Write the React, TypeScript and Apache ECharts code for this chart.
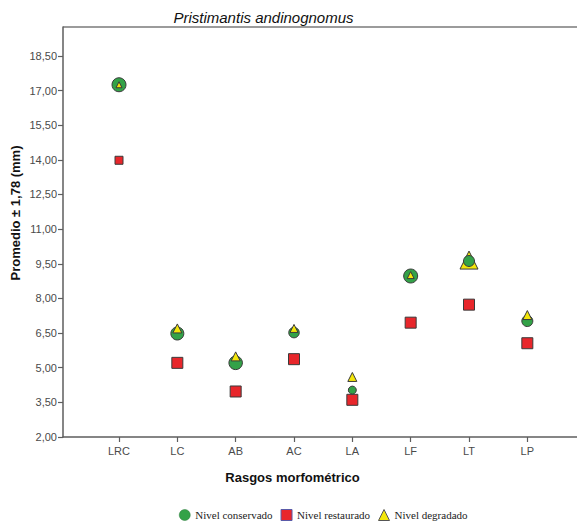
import React, { useEffect, useRef } from "react";
import * as echarts from "echarts";

// Morphometric traits along the x axis
const categories = ["LRC", "LC", "AB", "AC", "LA", "LF", "LT", "LP"];

// Mean values (mm) per habitat condition
const conservado = [17.25, 6.48, 5.21, 6.52, 4.03, 8.97, 9.62, 7.02];
const restaurado = [13.98, 5.21, 3.97, 5.37, 3.61, 6.95, 7.73, 6.06];
const degradado = [17.25, 6.7, 5.49, 6.7, 4.6, 9.01, 9.66, 7.28];

// Y axis tick values
const yTicks = [2, 3.5, 5, 6.5, 8, 9.5, 11, 12.5, 14, 15.5, 17, 18.5];

// Marker sizes (px) per point
const conservadoSize = [14, 13, 13.5, 10.5, 8, 14, 11, 11];
const restauradoSize = [8, 11, 11, 11, 11, 11, 11, 11];
const degradadoSize = [6, 9, 9, 8, 9, 7, 18, 9];

const FONT = "'Liberation Sans', Arial, sans-serif";
const AXIS_COLOR = "#5e5e5e";
const GREEN = "#33a248";
const RED = "#e8262b";
const YELLOW = "#f3e60a";
const BORDER = "#3a3a3a";

// The plot frame runs past the right edge of the visible area
const X_MIN = -0.96;
const X_MAX = 8.04;
const CANVAS_W = 610;
const GRID = { left: 63, right: 22, top: 27, bottom: 87 };

const fmt = (v: number) => v.toFixed(2).replace(".", ",");

export default function App() {
  const ref = useRef<HTMLDivElement>(null);

  useEffect(() => {
    if (!ref.current) return;
    const chart = echarts.init(ref.current, null, { renderer: "svg" });

    const points = (vals: number[], sizes: number[], keep: (i: number) => boolean) =>
      vals
        .map((v, i) => ({ value: [i, v], symbolSize: sizes[i], _i: i }))
        .filter((d) => keep(d._i))
        .map(({ value, symbolSize }) => ({ value, symbolSize }));

    // Triangles larger than their circle sit underneath it
    const under = (i: number) => degradadoSize[i] > conservadoSize[i];

    const xIdx = categories.map((_, i) => i);

    chart.setOption({
      animation: false,
      grid: GRID,
      xAxis: {
        type: "value",
        min: X_MIN,
        max: X_MAX,
        axisLine: { show: true, onZero: false, lineStyle: { color: AXIS_COLOR, width: 1.5 } },
        axisTick: { show: true, customValues: xIdx, length: 5, lineStyle: { color: AXIS_COLOR, width: 1.2 } },
        axisLabel: {
          customValues: xIdx,
          formatter: (v: number) => categories[Math.round(v)] ?? "",
          margin: 8,
          color: "#4a4a4a",
          fontSize: 11,
          fontFamily: FONT,
        },
        splitLine: { show: false },
      },
      yAxis: {
        type: "value",
        min: 2,
        max: 19.75,
        axisLine: { show: true, onZero: false, lineStyle: { color: AXIS_COLOR, width: 1.5 } },
        axisTick: { show: true, customValues: yTicks, length: 5, lineStyle: { color: AXIS_COLOR, width: 1.2 } },
        axisLabel: {
          customValues: yTicks,
          formatter: (v: number) => fmt(v),
          margin: 6,
          color: "#4a4a4a",
          fontSize: 11,
          fontFamily: FONT,
        },
        splitLine: { show: false },
      },
      legend: {
        left: 174,
        top: 504,
        itemWidth: 11,
        itemHeight: 11,
        itemGap: 8,
        textStyle: { fontFamily: "'Liberation Serif', 'Times New Roman', serif", fontSize: 11, color: "#222" },
        data: [
          { name: "Nivel conservado", icon: "circle", itemStyle: { color: GREEN, borderColor: "#2a7a3a", borderWidth: 0.5 } },
          { name: "Nivel restaurado", icon: "rect", itemStyle: { color: RED, borderColor: "#5a5aa8", borderWidth: 1 } },
          { name: "Nivel degradado", icon: "triangle", itemStyle: { color: YELLOW, borderColor: "#555", borderWidth: 1 } },
        ],
      },
      graphic: [
        {
          // top edge of the plot frame
          type: "line",
          shape: { x1: GRID.left, y1: GRID.top, x2: CANVAS_W - GRID.right, y2: GRID.top },
          style: { stroke: "#7a7a7a", lineWidth: 1.5 },
          silent: true,
        },
        {
          type: "text",
          x: 263.5,
          y: 17,
          style: {
            text: "Pristimantis andinognomus",
            font: `italic 15px ${FONT}`,
            fill: "#111",
            textAlign: "center",
            textVerticalAlign: "middle",
          },
        },
        {
          type: "text",
          x: 15,
          y: 213,
          rotation: Math.PI / 2,
          style: {
            text: "Promedio ± 1,78 (mm)",
            font: `bold 13px ${FONT}`,
            fill: "#111",
            textAlign: "center",
            textVerticalAlign: "middle",
          },
        },
        {
          type: "text",
          x: 292.5,
          y: 477,
          style: {
            text: "Rasgos morfométrico",
            font: `bold 13px ${FONT}`,
            fill: "#111",
            textAlign: "center",
            textVerticalAlign: "middle",
          },
        },
      ],
      series: [
        {
          name: "Nivel degradado",
          type: "scatter",
          z: 1,
          symbol: "triangle",
          itemStyle: { color: YELLOW, borderColor: BORDER, borderWidth: 1, opacity: 1 },
          data: points(degradado, degradadoSize, under),
        },
        {
          name: "Nivel restaurado",
          type: "scatter",
          z: 2,
          symbol: "rect",
          itemStyle: { color: RED, borderColor: BORDER, borderWidth: 1, opacity: 1 },
          data: points(restaurado, restauradoSize, () => true),
        },
        {
          name: "Nivel conservado",
          type: "scatter",
          z: 3,
          symbol: "circle",
          itemStyle: { color: GREEN, borderColor: BORDER, borderWidth: 1, opacity: 1 },
          data: points(conservado, conservadoSize, () => true),
        },
        {
          name: "Nivel degradado",
          type: "scatter",
          z: 4,
          symbol: "triangle",
          itemStyle: { color: YELLOW, borderColor: BORDER, borderWidth: 1, opacity: 1 },
          data: points(degradado, degradadoSize, (i) => !under(i)),
        },
      ],
    });

    return () => chart.dispose();
  }, []);

  return (
    <div
      style={{ position: "fixed", left: 0, top: 0, width: 577, height: 524, overflow: "hidden", background: "#fff" }}
    >
      <div ref={ref} style={{ width: CANVAS_W, height: 524 }} />
    </div>
  );
}
